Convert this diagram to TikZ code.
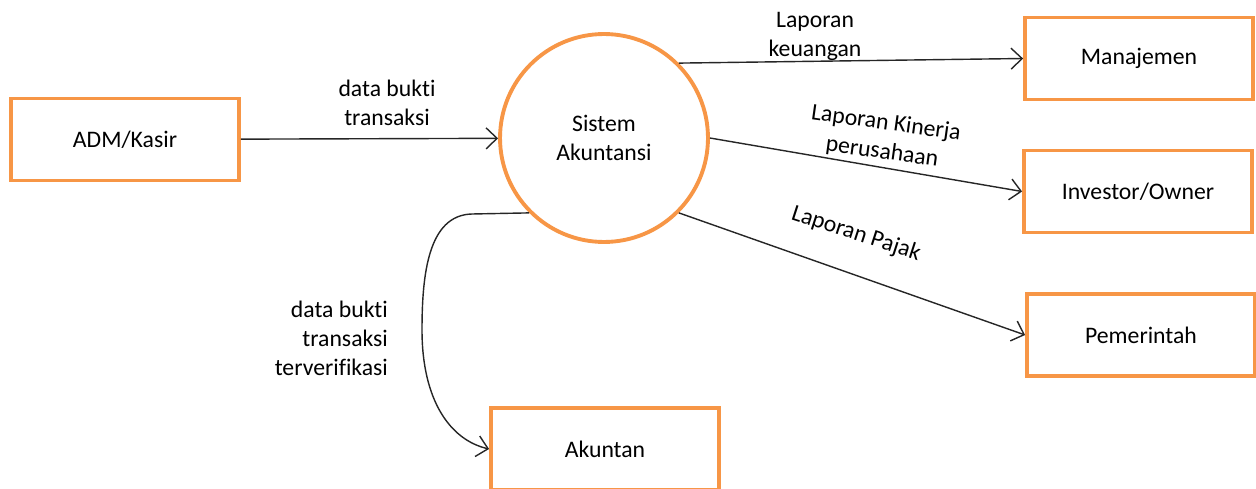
\documentclass[tikz,border=0pt]{standalone}
\usepackage{fontspec}
\setmainfont{Carlito}[Ligatures=NoCommon]
\usepackage{tikz}
\usetikzlibrary{arrows.meta, positioning}
\definecolor{dfdorange}{HTML}{F79646}

\begin{document}
\begin{tikzpicture}[
        x=0.02cm, y=-0.02cm,
        font=\fontsize{13.5}{16.5}\selectfont,
        box/.style={rectangle, draw=dfdorange, line width=2.2pt, fill=white, align=center, minimum height=1.64cm, minimum width=4.56cm},
        circlebox/.style={circle, draw=dfdorange, line width=2.2pt, fill=white, align=center, minimum size=4.16cm},
        lbl/.style={align=center, inner sep=1pt},
        arrow/.style={-{Straight Barb[length=2.2mm,width=4.2mm]}, line width=0.8pt, color=black!85}
    ]
        \useasboundingbox (0,0) rectangle (1256,489);

        \node[box] (kasir) at (125,139.5) {ADM/Kasir};
        \node[circlebox] (sistem) at (604,138) {Sistem \\ Akuntansi};

        \node[box] (manajemen) at (1139,58.5) {Manajemen};
        \node[box] (investor) at (1138,191.5) {Investor/Owner};
        \node[box] (pemerintah) at (1141,335) {Pemerintah};
        \node[box] (akuntan) at (605,449) {Akuntan};

        % Labels
        \node[lbl] (lbukti) at (387,103) {data bukti \\ transaksi};
        \node[lbl] (lkeuangan) at (815,36) {Laporan \\ keuangan};
        \node[lbl, rotate=-8] (lkinerja) at (884,138) {Laporan Kinerja \\ perusahaan};
        \node[lbl, rotate=-18] (lpajak) at (856,234) {Laporan Pajak};
        \node[lbl, align=right, anchor=east] (lverif) at (390,338) {data bukti \\ transaksi \\ terverifikasi};

        % Arrows
        \draw[arrow] (kasir) -- (sistem);
        \draw[arrow] (sistem.45) -- (manajemen.west);
        \draw[arrow] (sistem.east) -- (investor.west);
        \draw[arrow] (sistem.-45) -- (pemerintah.west);

        % Curved arrow down to Akuntan
        \draw[arrow] (sistem.-135) -- (472,214)
            .. controls (428,215) and (422,275) .. (422,330)
            .. controls (422,400) and (450,440) .. (akuntan.west);

    \end{tikzpicture}
\end{document}
